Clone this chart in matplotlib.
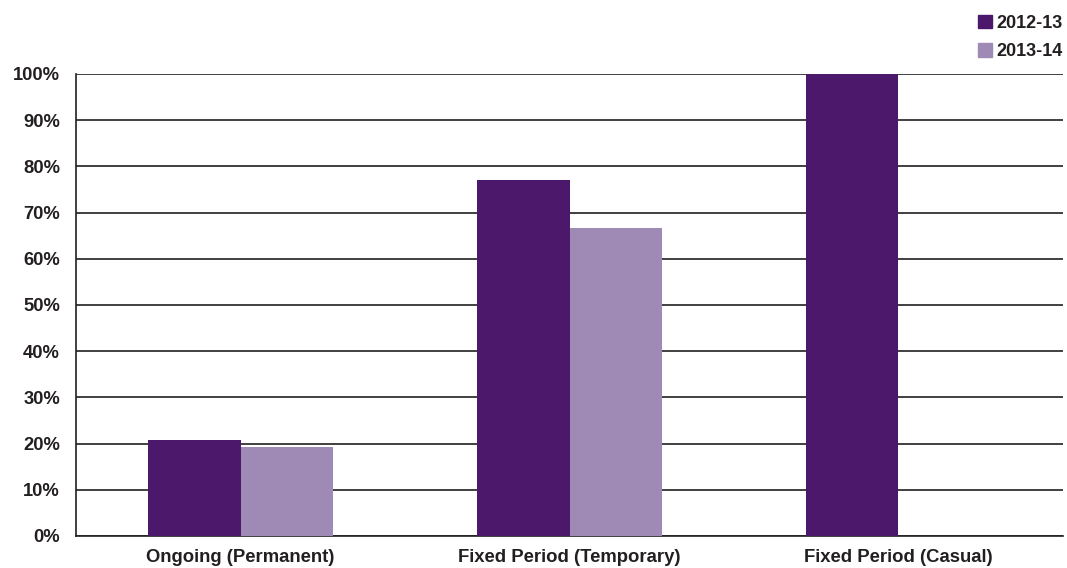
import matplotlib
matplotlib.use("Agg")
import matplotlib.pyplot as plt
import numpy as np
from matplotlib.patches import Patch

categories = ["Ongoing (Permanent)", "Fixed Period (Temporary)", "Fixed Period (Casual)"]
series_names = ["2012-13", "2013-14"]
values_2012 = [20.8, 77.1, 100.0]
values_2013 = [19.3, 66.7, 0.0]
y_ticks = [0, 10, 20, 30, 40, 50, 60, 70, 80, 90, 100]
colors = ["#4B186B", "#9E8AB5"]

plt.rcParams['font.family'] = ['Liberation Sans', 'DejaVu Sans']
plt.rcParams['font.weight'] = 'bold'

fig = plt.figure(figsize=(10.67, 5.68), dpi=100)
ax = fig.add_axes([76/1067, 1 - 536/568, (1063-76)/1067, (536-74)/568])

x = np.arange(len(categories))
w = 0.28
ax.bar(x - w/2, values_2012, width=w, color=colors[0], zorder=3)
ax.bar(x + w/2, values_2013, width=w, color=colors[1], zorder=3)

ax.set_xlim(-0.5, len(categories) - 0.5)
ax.set_ylim(0, 100)
ax.set_yticks(y_ticks)
ax.set_yticklabels([f"{t}%" for t in y_ticks], fontsize=13.2, fontweight='bold', color='#231f20')
ax.set_xticks(x)
ax.set_xticklabels(categories, fontsize=13.3, fontweight='bold', color='#231f20')
ax.tick_params(axis='y', length=0, pad=11.5)
ax.tick_params(axis='x', length=0, pad=9.5)
ax.yaxis.grid(True, color='#231f20', linewidth=1.2, zorder=0)
for s in ['top', 'right']:
    ax.spines[s].set_visible(False)
ax.spines['left'].set_color('#231f20')
ax.spines['left'].set_linewidth(1.2)
ax.spines['bottom'].set_color('#231f20')
ax.spines['bottom'].set_linewidth(1.2)

handles = [Patch(color=colors[0], label=series_names[0]), Patch(color=colors[1], label=series_names[1])]
fig.legend(handles=handles, loc='upper right', bbox_to_anchor=(1.0056, 0.993), frameon=False,
           prop={'size': 13, 'weight': 'bold'}, handlelength=0.78, handleheight=0.78,
           handletextpad=0.22, labelspacing=0.62, labelcolor='#231f20',
           borderaxespad=0.3, borderpad=0.3)

fig.savefig("out.png", dpi=100)
